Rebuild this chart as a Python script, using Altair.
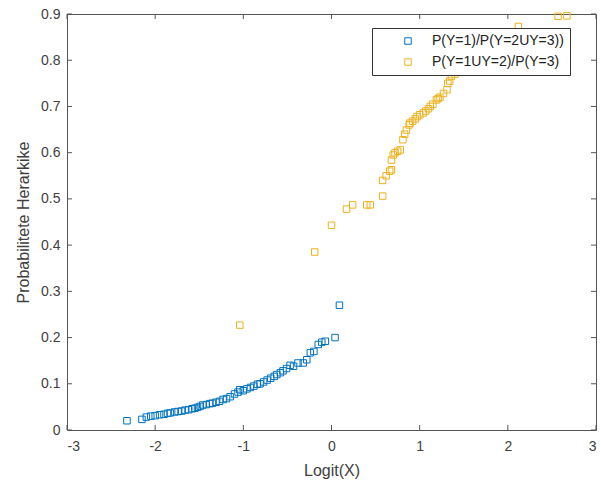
import altair as alt
import pandas as pd

# ---- data ----
series_names = ["P(Y=1)/P(Y=2UY=3))", "P(Y=1UY=2)/P(Y=3)"]
series_colors = ["#0072BD", "#EDB120"]

blue_x = [-2.32, -2.15, -2.10, -2.05, -2.00, -1.95, -1.90, -1.86, -1.83, -1.78,
          -1.74, -1.70, -1.66, -1.62, -1.58, -1.55, -1.52, -1.49, -1.46, -1.42,
          -1.38, -1.35, -1.31, -1.27, -1.23, -1.19, -1.15, -1.10, -1.06, -1.04,
          -1.00, -0.96, -0.92, -0.88, -0.84, -0.81, -0.77, -0.73, -0.69, -0.65,
          -0.62, -0.58, -0.55, -0.51, -0.47, -0.43, -0.38, -0.32, -0.28, -0.24,
          -0.20, -0.15, -0.11, -0.07, 0.04, 0.09]
blue_y = [0.020, 0.023, 0.028, 0.030, 0.031, 0.033, 0.034, 0.036, 0.037, 0.039,
          0.040, 0.041, 0.043, 0.044, 0.046, 0.047, 0.049, 0.051, 0.054, 0.055,
          0.057, 0.058, 0.060, 0.062, 0.066, 0.068, 0.072, 0.078, 0.082, 0.087,
          0.085, 0.089, 0.092, 0.095, 0.099, 0.100, 0.104, 0.108, 0.112, 0.116,
          0.120, 0.124, 0.128, 0.133, 0.140, 0.138, 0.145, 0.145, 0.152, 0.167,
          0.170, 0.185, 0.190, 0.192, 0.200, 0.270]

orange_x = [-1.04, -0.19, 0.00, 0.17, 0.24, 0.40, 0.44, 0.58, 0.58, 0.62,
            0.66, 0.68, 0.68, 0.70, 0.72, 0.75, 0.78, 0.81, 0.83, 0.85,
            0.88, 0.89, 0.92, 0.95, 0.97, 1.00, 1.04, 1.07, 1.10, 1.12,
            1.15, 1.19, 1.21, 1.23, 1.27, 1.31, 1.32, 1.34, 1.36, 1.40,
            1.42, 1.46, 1.55, 1.70, 1.90, 2.12, 2.57, 2.67]
orange_y = [0.227, 0.385, 0.443, 0.478, 0.487, 0.487, 0.487, 0.506, 0.540, 0.550,
            0.560, 0.563, 0.584, 0.595, 0.600, 0.603, 0.606, 0.628, 0.640, 0.649,
            0.660, 0.664, 0.668, 0.673, 0.678, 0.682, 0.686, 0.690, 0.695, 0.700,
            0.705, 0.714, 0.717, 0.720, 0.728, 0.736, 0.750, 0.755, 0.765, 0.770,
            0.776, 0.780, 0.800, 0.820, 0.850, 0.873, 0.895, 0.896]

x_ticks = [-3, -2, -1, 0, 1, 2, 3]
y_ticks = [0, 0.1, 0.2, 0.3, 0.4, 0.5, 0.6, 0.7, 0.8, 0.9]

W, H = 529, 416
FONT = "Liberation Sans"
AXC = "#555555"
TXT = "#404040"

df = pd.concat([
    pd.DataFrame({"x": blue_x, "y": blue_y, "s": series_names[0]}),
    pd.DataFrame({"x": orange_x, "y": orange_y, "s": series_names[1]}),
], ignore_index=True)

xs = alt.Scale(domain=[-3, 3], nice=False, zero=False)
ys = alt.Scale(domain=[0, 0.9], nice=False, zero=False)

points = alt.Chart(df).mark_point(shape="square", filled=False, size=42, strokeWidth=1, opacity=1).encode(
    x=alt.X("x:Q", scale=xs, title="Logit(X)",
            axis=alt.Axis(values=x_ticks, tickSize=0, grid=False, domain=False,
                          labelPadding=9, titlePadding=9,
                          labelFont=FONT, labelFontSize=14, labelColor=TXT,
                          titleFont=FONT, titleFontSize=16, titleFontWeight="normal", titleColor=TXT,
                          labelExpr="datum.value < 0 ? '-' + abs(datum.value) : '' + datum.value")),
    y=alt.Y("y:Q", scale=ys, title="Probabilitete Herarkike",
            axis=alt.Axis(values=y_ticks, tickSize=0, grid=False, domain=False,
                          labelPadding=7, titlePadding=9,
                          labelFont=FONT, labelFontSize=14, labelColor=TXT,
                          titleFont=FONT, titleFontSize=16, titleFontWeight="normal", titleColor=TXT,
                          labelExpr="datum.value == 0 ? '0' : format(datum.value, '.1f')")),
    color=alt.Color("s:N", scale=alt.Scale(domain=series_names, range=series_colors),
                    legend=alt.Legend(title=None, orient="none", legendX=305, legendY=14,
                                      strokeColor="#333333", fillColor="white",
                                      padding=6, symbolType="square", symbolSize=42,
                                      symbolStrokeWidth=1, symbolOffset=23, labelOffset=17,
                                      labelFont=FONT, labelFontSize=14, labelColor="#222222",
                                      rowPadding=7)),
)

xt = pd.DataFrame({"v": x_ticks})
yt = pd.DataFrame({"v": y_ticks})
tick_bottom = alt.Chart(xt).mark_rule(color=AXC, strokeWidth=1).encode(
    x=alt.X("v:Q", scale=xs), y=alt.value(H), y2=alt.value(H - 5))
tick_top = alt.Chart(xt).mark_rule(color=AXC, strokeWidth=1).encode(
    x=alt.X("v:Q", scale=xs), y=alt.value(0), y2=alt.value(5))
tick_left = alt.Chart(yt).mark_rule(color=AXC, strokeWidth=1).encode(
    y=alt.Y("v:Q", scale=ys), x=alt.value(0), x2=alt.value(5))
tick_right = alt.Chart(yt).mark_rule(color=AXC, strokeWidth=1).encode(
    y=alt.Y("v:Q", scale=ys), x=alt.value(W), x2=alt.value(W - 5))

chart = alt.layer(points, tick_bottom, tick_top, tick_left, tick_right).properties(
    width=W, height=H,
    background="white",
    autosize=alt.AutoSizeParams(type="none"),
    padding={"left": 67, "top": 14, "right": 5, "bottom": 51},
).configure_view(stroke=AXC, strokeWidth=1)

chart.save("out.html", embed_options={"renderer": "svg", "actions": False})
